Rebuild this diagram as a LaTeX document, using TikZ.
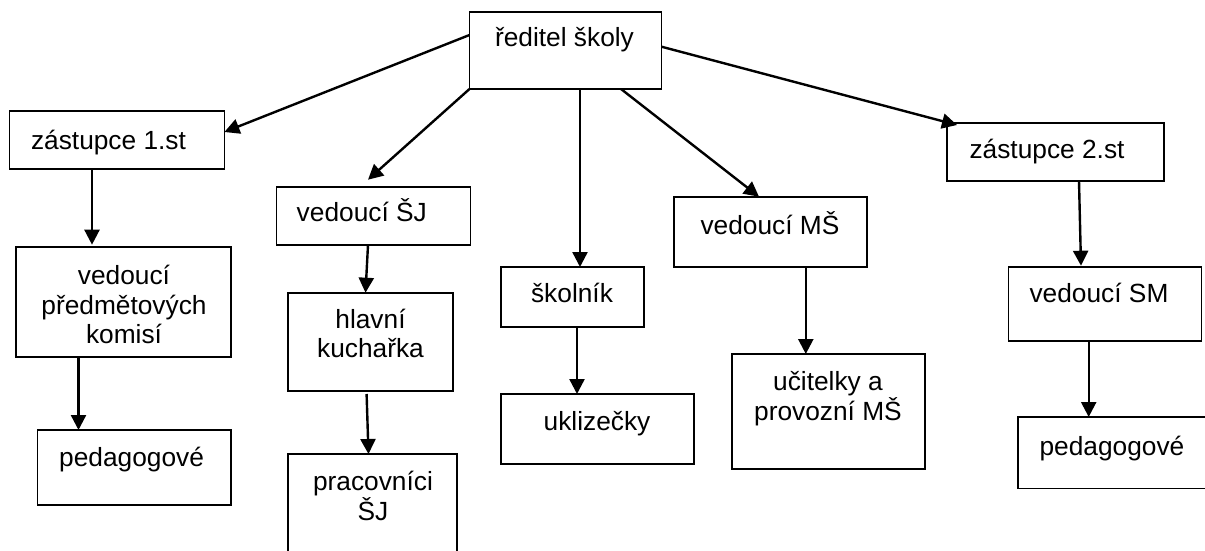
\documentclass[tikz,border=0pt]{standalone}
\usepackage{fontspec}
\setmainfont{Liberation Sans}
\usetikzlibrary{arrows.meta}
\begin{document}
\begin{tikzpicture}[x=1pt,y=-1pt,
  box/.style={draw, line width=1.8pt, rectangle, inner sep=0pt, outer sep=0pt, anchor=north west},
  lbl/.style={inner sep=0pt, align=center, anchor=base, font=\fontsize{26.3}{29.3}\selectfont},
  arr/.style={line width=2.4pt, -{Triangle[width=15pt,length=15pt]}}]
\useasboundingbox (0,0) rectangle (1205,551);
\clip (0,0) rectangle (1205,551);
\fill[white] (0,0) rectangle (1205,551);
% boxes
\node[box, minimum width=192pt, minimum height=77.3pt] (top) at (469.5,11.7) {};
\node[box, minimum width=215pt, minimum height=58pt] (z1) at (9.4,111) {};
\node[box, minimum width=194pt, minimum height=58.3pt] (sj) at (276.5,186.7) {};
\node[box, minimum width=215pt, minimum height=110pt] (pk) at (15.7,246.7) {};
\node[box, minimum width=193.5pt, minimum height=75pt] (pedL) at (37.5,430) {};
\node[box, minimum width=164.7pt, minimum height=98pt] (hk) at (288,292.7) {};
\node[box, minimum width=169pt, minimum height=110pt] (prac) at (288.3,454) {};
\node[box, minimum width=143pt, minimum height=59.7pt] (skol) at (501,267) {};
\node[box, minimum width=193pt, minimum height=70pt] (ukl) at (501,394) {};
\node[box, minimum width=193pt, minimum height=70pt] (ms) at (674,196.7) {};
\node[box, minimum width=193pt, minimum height=115pt] (uc) at (731.7,354) {};
\node[box, minimum width=217pt, minimum height=58.3pt] (z2) at (947,122.7) {};
\node[box, minimum width=193pt, minimum height=74pt] (sm) at (1008.5,266.7) {};
\node[box, minimum width=200pt, minimum height=71.5pt] (pedR) at (1018,417) {};
% labels (base anchor = baseline of the last line)
\node[lbl] (ttop) at (564.5,46.7) {ředitel školy};
\node[lbl] (tz1) at (108.5,149.3) {zástupce 1.st};
\node[lbl] (tsj) at (361.8,221.7) {vedoucí ŠJ};
\node[lbl] (tpk) at (124,343.3) {vedoucí\\předmětových\\komisí};
\node[lbl] (tpedL) at (131.6,466) {pedagogové};
\node[lbl] (thk) at (370.5,357.7) {hlavní\\kuchařka};
\node[lbl] (tprac) at (373,520) {pracovníci\\ŠJ};
\node[lbl] (tskol) at (572,302.7) {školník};
\node[lbl] (tukl) at (597,430) {uklizečky};
\node[lbl] (tms) at (770,234) {vedoucí MŠ};
\node[lbl] (tuc) at (828,420) {učitelky a\\provozní MŠ};
\node[lbl] (tz2) at (1047,158.5) {zástupce 2.st};
\node[lbl] (tsm) at (1099,302.7) {vedoucí SM};
\node[lbl] (tpedR) at (1112,455) {pedagogové};
% arrows
\draw[arr] ([yshift=-23.3pt]top.north west) -- ([yshift=-21pt]z1.north east);
\draw[arr] (top.south west) -- ([xshift=91.5pt,yshift=7pt]sj.north west);
\draw[arr] ([xshift=110.5pt]top.south west) -- ([xshift=79pt]skol.north west);
\draw[arr] ([xshift=151.5pt]top.south west) -- ([xshift=85pt]ms.north west);
\draw[arr] ([yshift=-35pt]top.north east) -- ([xshift=10pt,yshift=-2.3pt]z2.north west);
\draw[arr] ([xshift=82.6pt]z1.south west) -- ([xshift=76.3pt,yshift=2pt]pk.north west);
\draw[arr] ([xshift=62.8pt]pk.south west) -- ([xshift=41pt]pedL.north west);
\draw[arr] ([xshift=91.5pt]sj.south west) -- ([xshift=77.5pt]hk.north west);
\draw[arr] ([xshift=78.6pt,yshift=-3.3pt]hk.south west) -- ([xshift=80.2pt]prac.north west);
\draw[arr] ([xshift=76pt]skol.south west) -- ([xshift=76pt]ukl.north west);
\draw[arr] ([xshift=131.8pt]ms.south west) -- ([xshift=74.1pt]uc.north west);
\draw[arr] ([xshift=132pt]z2.south west) -- ([xshift=72.5pt,yshift=1pt]sm.north west);
\draw[arr] ([xshift=80.2pt]sm.south west) -- ([xshift=70.7pt]pedR.north west);
\end{tikzpicture}
\end{document}
